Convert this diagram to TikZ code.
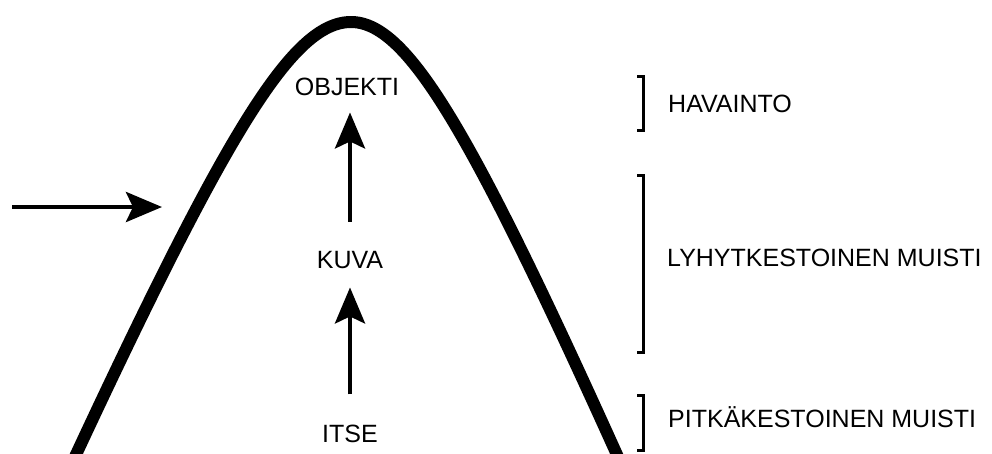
\documentclass[tikz,border=0pt]{standalone}
\usepackage{fontspec}
\setmainfont{Liberation Sans}
\usepackage{tikz}
\usetikzlibrary{arrows.meta,positioning}

\begin{document}
\begin{tikzpicture}[x=1pt, y=-1pt,
    every node/.style={font=\fontsize{25}{29}\selectfont, inner sep=0pt},
    uparrow/.style={line width=4.5pt, -{Stealth[length=36pt,width=30pt,inset=7pt]}},
    brak/.style={line width=3pt}]
  \useasboundingbox (0,0) rectangle (992,453);
  \clip (0,0) rectangle (992,453);

  % the bell (hyperbola-like arch, right flank a little steeper)
  \draw[line width=12pt] plot[domain=-2.9:2.9, samples=120, smooth]
    ({351+100*\x*ifthenelse(\x<0,1,0.967)}, {22+230*(sqrt(\x*\x+1.1449)-1.07)});

  % levels
  \node[anchor=base] (objekti) at (347,95) {OBJEKTI};
  \node[anchor=base] (kuva) at (350,268) {KUVA};
  \node[anchor=base] (itse) at (350,442) {ITSE};

  \draw[uparrow, shorten <=29pt, shorten >=17pt] (kuva.north) -- (kuva.north |- objekti.south);
  \draw[uparrow, shorten <=30pt, shorten >=19pt] (itse.north) -- (itse.north |- kuva.south);

  % input
  \coordinate (in) at (12,207);
  \coordinate (hit) at (162,207);
  \draw[uparrow] (in) -- (hit);

  % brackets
  \draw[brak] (637,76) -- (643,76) -- (643,130) -- (637,130);
  \draw[brak] (637,175) -- (643,175) -- (643,352) -- (637,352);
  \draw[brak] (637,395) -- (643,395) -- (643,450) -- (637,450);

  \node[anchor=base west] (havainto) at (668,112) {HAVAINTO};
  \node[anchor=base west] (lyhyt) at (667,266) {LYHYTKESTOINEN MUISTI};
  \node[anchor=base west] (pitka) at (668,427) {PITKÄKESTOINEN MUISTI};
\end{tikzpicture}
\end{document}
